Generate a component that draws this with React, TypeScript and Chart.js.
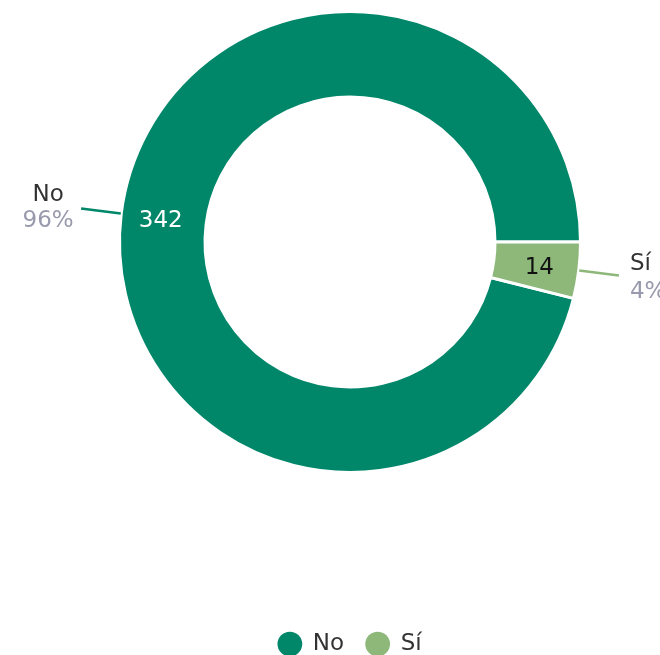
import React, { useEffect, useRef } from "react";
import { Chart, registerables } from "chart.js";

Chart.register(...registerables);

const categories = ["No", "Sí"];
const values = [342, 14];
const sliceColors = ["#00876a", "#8db87a"];
const valueLabelColors = ["#ffffff", "#111111"];
const nameColor = "#333333";
const percentColor = "#9999ad";

const FONT = '"DejaVu Sans", Verdana, sans-serif';
const FONT_SIZE = 23;

const sliceLabelPlugin = {
  id: "sliceLabels",
  afterDatasetsDraw(chart: any) {
    const ctx = chart.ctx;
    const meta = chart.getDatasetMeta(0);
    const data = chart.data.datasets[0].data as number[];
    const names = chart.data.labels as string[];
    const total = data.reduce((a: number, b: number) => a + b, 0);
    const capHalf = FONT_SIZE * 0.729 / 2;
    ctx.save();
    ctx.font = `${FONT_SIZE}px ${FONT}`;
    meta.data.forEach((arc: any, i: number) => {
      const p = arc.getProps(["x", "y", "startAngle", "endAngle", "innerRadius", "outerRadius"], true);
      const mid = (p.startAngle + p.endAngle) / 2;
      const cos = Math.cos(mid);
      const sin = Math.sin(mid);
      // value inside the ring
      const rm = (p.innerRadius + p.outerRadius) / 2 + 3;
      ctx.fillStyle = valueLabelColors[i];
      ctx.textAlign = "center";
      ctx.textBaseline = "alphabetic";
      ctx.fillText(String(data[i]), p.x + rm * cos, p.y + rm * sin + capHalf);
      // connector line
      const r1 = p.outerRadius + 0.5;
      const r2 = p.outerRadius + 40.5;
      const sx = p.x + r1 * cos, sy = p.y + r1 * sin;
      const ex = p.x + r2 * cos, ey = p.y + r2 * sin;
      ctx.strokeStyle = sliceColors[i];
      ctx.lineWidth = 2.5;
      ctx.beginPath();
      ctx.moveTo(sx, sy);
      ctx.lineTo(ex, ey);
      ctx.stroke();
      // outside label
      const pct = Math.round((data[i] / total) * 100) + "%";
      const left = cos < 0;
      let tx: number, b1: number, b2: number;
      if (left) {
        ctx.textAlign = "center";
        tx = ex - 33;
        b1 = ey - 8;
        b2 = ey + 18.5;
      } else {
        ctx.textAlign = "left";
        tx = ex + 11;
        b1 = ey - 5.5;
        b2 = ey + 22.5;
      }
      ctx.fillStyle = nameColor;
      ctx.fillText(names[i], tx, b1);
      ctx.fillStyle = percentColor;
      ctx.fillText(pct, tx, b2);
    });
    ctx.restore();
  },
};

export default function App() {
  const canvasRef = useRef<HTMLCanvasElement | null>(null);

  useEffect(() => {
    if (!canvasRef.current) return;
    const total = values.reduce((a, b) => a + b, 0);
    const rotation = 90 + (360 * values[1]) / total;
    const defaultGen = (Chart as any).overrides.doughnut.plugins.legend.labels.generateLabels;
    const chart = new Chart(canvasRef.current, {
      type: "doughnut",
      data: {
        labels: categories,
        datasets: [
          {
            data: values,
            backgroundColor: sliceColors,
            borderColor: "#ffffff",
            borderWidth: 3,
            hoverOffset: 0,
          },
        ],
      },
      options: {
        responsive: false,
        animation: false,
        events: [],
        rotation,
        cutout: "62.9%",
        layout: { padding: { top: 10, left: 40, right: 0, bottom: 0 } },
        plugins: {
          tooltip: { enabled: false },
          legend: {
            position: "bottom",
            maxHeight: 181,
            title: {
              display: true,
              text: "",
              font: { size: 1, lineHeight: 1 },
              padding: { top: 135.5, bottom: 0 },
            },
            labels: {
              usePointStyle: true,
              pointStyle: "circle",
              boxWidth: 23,
              boxHeight: 17.5,
              padding: 22,
              color: nameColor,
              font: { size: FONT_SIZE, family: FONT },
              generateLabels: (c: any) =>
                defaultGen(c).map((l: any) => ({ ...l, lineWidth: 0 })),
            },
          },
        },
      } as any,
      plugins: [sliceLabelPlugin],
    });
    return () => chart.destroy();
  }, []);

  return (
    <div style={{ position: "absolute", left: 0, top: 0, width: 660, height: 655, background: "#ffffff" }}>
      <canvas ref={canvasRef} width={660} height={655} style={{ width: 660, height: 655 }} />
    </div>
  );
}
